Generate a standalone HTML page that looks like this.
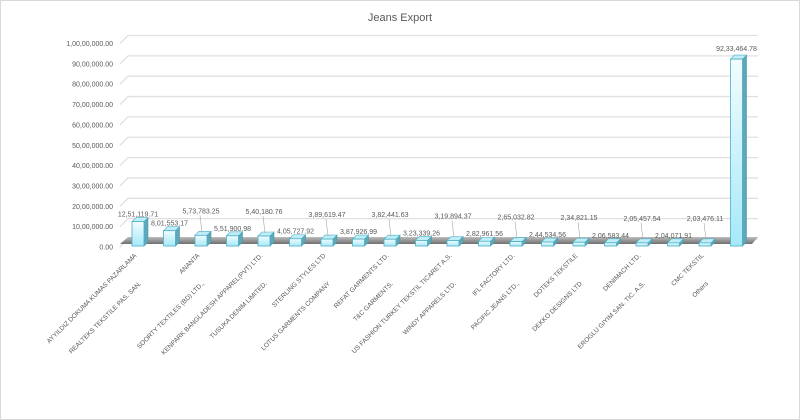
<!DOCTYPE html>
<html><head><meta charset="utf-8"><style>
body{margin:0;background:#fff;}
svg{display:block;font-family:"Liberation Sans",sans-serif;}
</style></head><body>
<svg width="800" height="420">
<defs>
<linearGradient id="gf" x1="0" y1="0" x2="0" y2="1"><stop offset="0" stop-color="#f2fcff"/><stop offset="1" stop-color="#a6e9f9"/></linearGradient>
<linearGradient id="gfl" x1="0" y1="0" x2="0" y2="1"><stop offset="0" stop-color="#bdbdbd"/><stop offset="1" stop-color="#6f6f6f"/></linearGradient>
</defs>
<rect x="0.5" y="0.5" width="799" height="419" fill="#fff" stroke="#d9d9d9"/>
<text x="400" y="21" text-anchor="middle" font-size="11" fill="#595959">Jeans Export</text>
<g id="grid"></g><g id="floor"></g><g id="bars"></g><g id="labels"></g><g id="cats"></g>
</svg>
<script>
const categories=["AYYILDIZ DOKUMA KUMAS PAZARLAMA","REALTEKS TEKSTILE PAS. SAN.","ANANTA","SOORTY TEXTILES (BD) LTD.,","KENPARK BANGLADESH APPAREL(PVT) LTD.","TUSUKA DENIM LIMITED.","STERLING STYLES LTD","LOTUS GARMENTS COMPANY","REFAT GARMENTS LTD.","T&C GARMENTS.","US FASHION TURKEY TEKSTIL TICARET A.S.","WINDY APPARELS LTD.","IFL FACTORY LTD.","PACIFIC JEANS LTD.,","DOTEKS TEKSTILE","DEKKO DESIGNS LTD","DENIMACH LTD.","EROGLU GIYIM SAN. TIC. A.S.","CMC TEKSTIL","Others"];
const values=[1251119.71,801553.17,573783.25,551900.98,540180.76,405727.92,389619.47,387926.99,382441.63,323339.26,319894.37,282961.56,265032.82,244534.56,234821.15,206583.44,205457.54,204071.91,203476.11,9233464.78];
const valueLabels=["12,51,119.71","8,01,553.17","5,73,783.25","5,51,900.98","5,40,180.76","4,05,727.92","3,89,619.47","3,87,926.99","3,82,441.63","3,23,339.26","3,19,894.37","2,82,961.56","2,65,032.82","2,44,534.56","2,34,821.15","2,06,583.44","2,05,457.54","2,04,071.91","2,03,476.11","92,33,464.78"];
const yTicks=[0,1000000,2000000,3000000,4000000,5000000,6000000,7000000,8000000,9000000,10000000];
const yTickLabels=["0.00","10,00,000.00","20,00,000.00","30,00,000.00","40,00,000.00","50,00,000.00","60,00,000.00","70,00,000.00","80,00,000.00","90,00,000.00","1,00,00,000.00"];
const NS="http://www.w3.org/2000/svg";
const y0=247,yTop=43.5,max=10000000,D=8;
const y=v=>y0-(y0-yTop)*v/max;
const x=i=>138+i*31.5;
function mk(t,a,p){const e=document.createElementNS(NS,t);for(const k in a)e.setAttribute(k,a[k]);p.appendChild(e);return e;}
const grid=document.getElementById('grid');
yTicks.forEach((v,i)=>{
 const yy=y(v);
 const l=mk('path',{d:`M120 ${yy} L${120+D} ${yy-D} L758 ${yy-D}`,stroke:'#e0e0e0','stroke-width':1.3,fill:'none'},grid);
 
 
 const t=mk('text',{x:113,y:yy+2.5,'text-anchor':'end','font-size':7,fill:'#595959'},grid);
 t.textContent=yTickLabels[i];
 
 
});
const floor=document.getElementById('floor');
const f=mk('path',{d:`M120 ${y0-3} L${120+D} ${y0-D-2} L758 ${y0-D-2} L752 ${y0-3} Z`,fill:'url(#gfl)'},floor);


const bars=document.getElementById('bars'),labels=document.getElementById('labels'),cats=document.getElementById('cats');
const w=12,d=4;
values.forEach((v,i)=>{
 const cx=x(i),l=cx-w/2,r=cx+w/2,top=y(v),b=y0-1;
 const g=mk('g',{},bars);
 
 
 mk('path',{d:`M${r} ${top} L${r+d} ${top-d} L${r+d} ${b-d} L${r} ${b} Z`,fill:'#5fa8b8',stroke:'#4a9aac','stroke-width':0.6},g);
 mk('path',{d:`M${l} ${top} L${l+d} ${top-d} L${r+d} ${top-d} L${r} ${top} Z`,fill:'#bfeef8',stroke:'#4aaec4','stroke-width':0.6},g);
 mk('rect',{x:l,y:top,width:w,height:b-top,fill:'url(#gf)',stroke:'#4aaec4','stroke-width':0.8},g);
 let ly,lx=cx;
 if(i===19){ly=top-8;}
 else if(i%2===0&&i>0){ly=top-22;mk('line',{x1:cx-1,y1:ly+2,x2:cx+1,y2:top-3,stroke:'#a6a6a6','stroke-width':0.6},labels);}
 else {ly=top-5;}
 if(i===0)ly=top-5;
 const t=mk('text',{x:lx,y:ly,'text-anchor':'middle','font-size':7,fill:'#595959'},labels);
 t.textContent=valueLabels[i];
 
 
 const odd=i%2===1;
 const tx=odd?cx-28:cx-1, ty=odd?y0+37:y0+9;
 const c=mk('text',{x:0,y:0,'text-anchor':'end','font-size':6.5,fill:'#595959',transform:`translate(${tx},${ty}) rotate(-45)`},cats);
 c.textContent=categories[i];
 
 
});
</script>
</body></html>
